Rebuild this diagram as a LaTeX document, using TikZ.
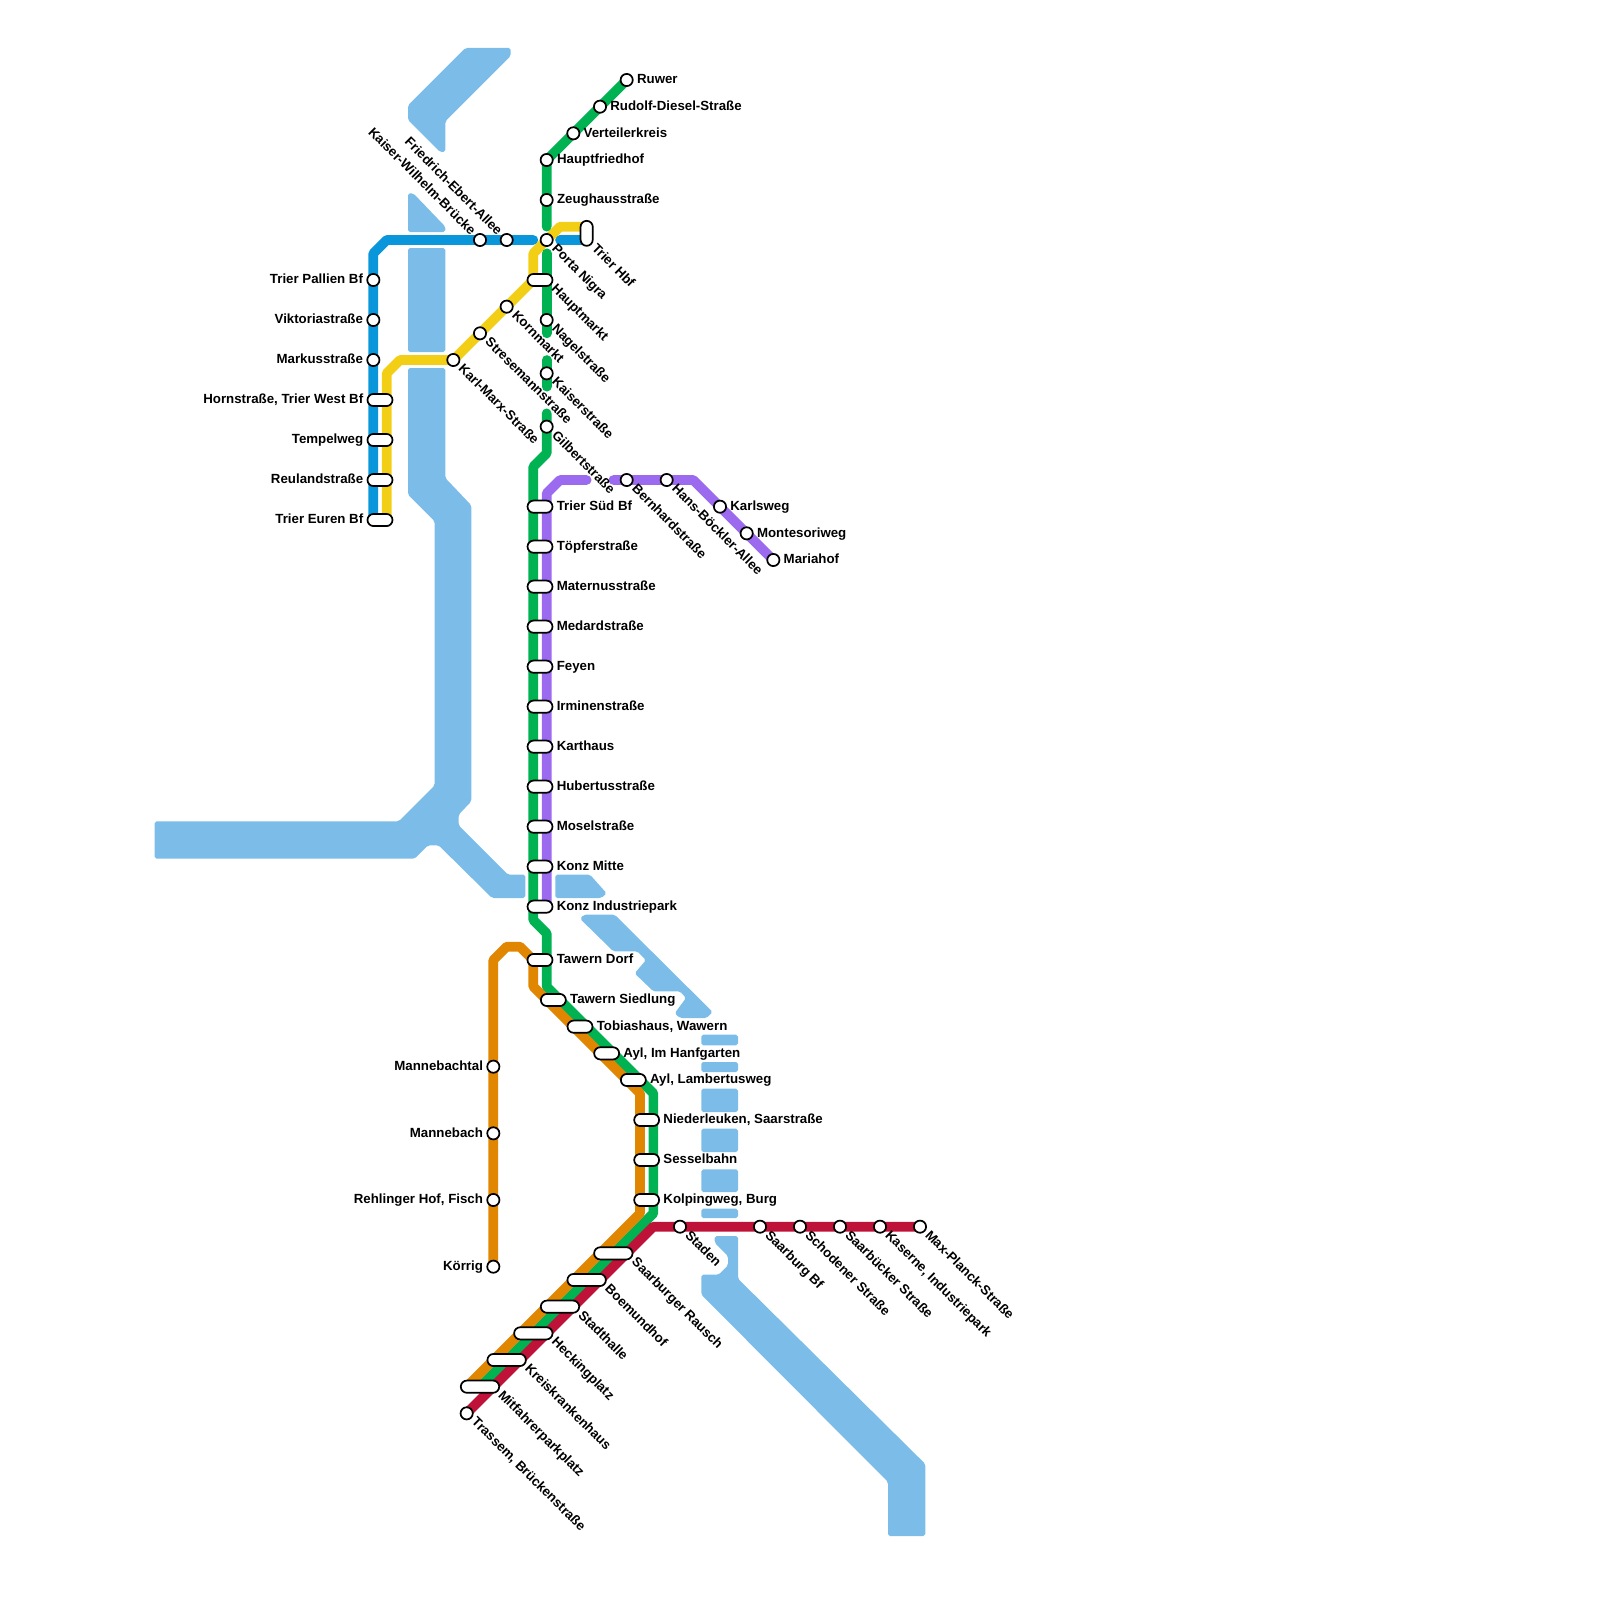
\documentclass[tikz,border=0pt]{standalone}
\usepackage{fontspec}
\setmainfont{Liberation Sans}
\usetikzlibrary{positioning}

\definecolor{waterblue}{HTML}{7BBDE8}
\definecolor{lineblue}{HTML}{0A96DA}
\definecolor{lineyellow}{HTML}{F2CF15}
\definecolor{linegreen}{HTML}{00B251}
\definecolor{linepurple}{HTML}{9B6AEE}
\definecolor{lineorange}{HTML}{E08600}
\definecolor{linered}{HTML}{BE1238}

\pgfdeclarelayer{lines}
\pgfsetlayers{lines,main}

\tikzset{
  water/.style={fill=waterblue, rounded corners=1.2pt},
  metro/.style={line width=6.2pt, line cap=round, line join=round},
  stop/.style={draw, circle, fill=white, line width=1.1pt, minimum size=7.8pt, inner sep=0pt},
  pill/.style={draw, fill=white, line width=1.1pt, rounded corners=3.9pt, minimum width=16pt, minimum height=7.8pt, inner sep=0pt},
  longpill/.style={pill, minimum width=24.6pt},
  txt/.style={font=\bfseries\fontsize{8.5pt}{10pt}\selectfont, inner sep=0pt, text height=6.7pt, text depth=2pt},
  slantlabel/.style={txt, yshift=-4.27pt, rotate=-45, anchor=west},
  backlabel/.style={txt, yshift=4.27pt, rotate=-45, anchor=east}
}

\begin{document}
\begin{tikzpicture}[x=0.3cm, y=-0.3cm]
\useasboundingbox (0,0) rectangle (120,120);

% Bends and free ends of the lines
\coordinate (bluebendA) at (28,19);
\coordinate (bluebendB) at (29,18);
\coordinate (blueend) at (28,39);
\coordinate (bluestub) at (40,18);
\coordinate (bluestart) at (42,18);
\coordinate (blueterm) at (44,18);
\coordinate (yellowterm) at (44,17);
\coordinate (yellowbendA) at (42,17);
\coordinate (yellowbendB) at (40,19);
\coordinate (yellowdiag) at (40,21);
\coordinate (yellowbendC) at (30,27);
\coordinate (yellowbendD) at (29,28);
\coordinate (yellowend) at (29,39);
\coordinate (greenstubA) at (41,17);
\coordinate (greenstubB) at (41,19);
\coordinate (greenstubC) at (41,25);
\coordinate (greenstubD) at (41,27);
\coordinate (greenstubE) at (41,29);
\coordinate (greenstubF) at (41,31);
\coordinate (greenbendA) at (41,34);
\coordinate (greenbendB) at (40,35);
\coordinate (greenbendC) at (40,69);
\coordinate (greenbendD) at (41,70);
\coordinate (greenbendE) at (41,74);
\coordinate (greenbendF) at (49,82);
\coordinate (greenbendG) at (49,91);
\coordinate (greenend) at (36,104);
\coordinate (purplestubA) at (46,36);
\coordinate (purplebendA) at (52,36);
\coordinate (purplestubB) at (44,36);
\coordinate (purplebendB) at (42,36);
\coordinate (purplebendC) at (41,37);
\coordinate (purpleend) at (41,68);
\coordinate (orangebendA) at (37,72);
\coordinate (orangebendB) at (38,71);
\coordinate (orangebendC) at (39,71);
\coordinate (orangebendD) at (40,72);
\coordinate (orangebendE) at (40,74);
\coordinate (orangebendF) at (48,82);
\coordinate (orangebendG) at (48,91);
\coordinate (orangeend) at (35,104);
\coordinate (redbend) at (49,92);

% Blue line
\node[stop] (pallien) at (28,21) {};
\node[txt, left=2pt of pallien] (pallienlabel) {Trier Pallien Bf};
\node[stop] (viktoria) at (28,24) {};
\node[txt, left=2pt of viktoria] (viktorialabel) {Viktoriastraße};
\node[stop] (markus) at (28,27) {};
\node[txt, left=2pt of markus] (markuslabel) {Markusstraße};
\node[pill] (horn) at (28.5,30) {};
\node[txt, left=2pt of horn] (hornlabel) {Hornstraße, Trier West Bf};
\node[pill] (tempel) at (28.5,33) {};
\node[txt, left=2pt of tempel] (tempellabel) {Tempelweg};
\node[pill] (reuland) at (28.5,36) {};
\node[txt, left=2pt of reuland] (reulandlabel) {Reulandstraße};
\node[pill] (euren) at (28.5,39) {};
\node[txt, left=2pt of euren] (eurenlabel) {Trier Euren Bf};
\node[stop] (kaiserw) at (36,18) {};
\node[backlabel] (kaiserwlabel) at (kaiserw.west) {Kaiser-Wilhelm-Brücke};
\node[stop] (ebert) at (38,18) {};
\node[backlabel] (ebertlabel) at (ebert.west) {Friedrich-Ebert-Allee};
\node[stop] (nigra) at (41,18) {};
\node[slantlabel] (nigralabel) at (nigra.east) {Porta Nigra};
\node[pill, minimum width=7.8pt, minimum height=16pt] (hbf) at (44,17.5) {};
\node[txt, rotate=-45, anchor=west] (hbflabel) at (hbf.south east) {Trier Hbf};

% Yellow line
\node[pill] (hauptmarkt) at (40.5,21) {};
\node[slantlabel] (hauptmarktlabel) at (hauptmarkt.east) {Hauptmarkt};
\node[stop] (korn) at (38,23) {};
\node[slantlabel] (kornlabel) at (korn.east) {Kornmarkt};
\node[stop] (strese) at (36,25) {};
\node[slantlabel] (streselabel) at (strese.east) {Stresemannstraße};
\node[stop] (marx) at (34,27) {};
\node[slantlabel] (marxlabel) at (marx.east) {Karl-Marx-Straße};

% Green line
\node[stop] (ruwer) at (47,6) {};
\node[txt, right=2pt of ruwer] (ruwerlabel) {Ruwer};
\node[stop] (diesel) at (45,8) {};
\node[txt, right=2pt of diesel] (diesellabel) {Rudolf-Diesel-Straße};
\node[stop] (verteiler) at (43,10) {};
\node[txt, right=2pt of verteiler] (verteilerlabel) {Verteilerkreis};
\node[stop] (friedhof) at (41,12) {};
\node[txt, right=2pt of friedhof] (friedhoflabel) {Hauptfriedhof};
\node[stop] (zeughaus) at (41,15) {};
\node[txt, right=2pt of zeughaus] (zeughauslabel) {Zeughausstraße};
\node[stop] (nagel) at (41,24) {};
\node[slantlabel] (nagellabel) at (nagel.east) {Nagelstraße};
\node[stop] (kaiser) at (41,28) {};
\node[slantlabel] (kaiserlabel) at (kaiser.east) {Kaiserstraße};
\node[stop] (gilbert) at (41,32) {};
\node[slantlabel] (gilbertlabel) at (gilbert.east) {Gilbertstraße};
\node[pill] (sued) at (40.5,38) {};
\node[txt, right=2pt of sued] (suedlabel) {Trier Süd Bf};
\node[pill] (toepfer) at (40.5,41) {};
\node[txt, right=2pt of toepfer] (toepferlabel) {Töpferstraße};
\node[pill] (matern) at (40.5,44) {};
\node[txt, right=2pt of matern] (maternlabel) {Maternusstraße};
\node[pill] (medard) at (40.5,47) {};
\node[txt, right=2pt of medard] (medardlabel) {Medardstraße};
\node[pill] (feyen) at (40.5,50) {};
\node[txt, right=2pt of feyen] (feyenlabel) {Feyen};
\node[pill] (irminen) at (40.5,53) {};
\node[txt, right=2pt of irminen] (irminenlabel) {Irminenstraße};
\node[pill] (karthaus) at (40.5,56) {};
\node[txt, right=2pt of karthaus] (karthauslabel) {Karthaus};
\node[pill] (hubertus) at (40.5,59) {};
\node[txt, right=2pt of hubertus] (hubertuslabel) {Hubertusstraße};
\node[pill] (mosel) at (40.5,62) {};
\node[txt, right=2pt of mosel] (mosellabel) {Moselstraße};
\node[pill] (konzm) at (40.5,65) {};
\node[txt, right=2pt of konzm] (konzmlabel) {Konz Mitte};
\node[pill] (konzi) at (40.5,68) {};
\node[txt, right=2pt of konzi] (konzilabel) {Konz Industriepark};
\node[pill] (tawernd) at (40.5,72) {};
\node[txt, right=2pt of tawernd] (tawerndlabel) {Tawern Dorf};
\node[pill] (tawerns) at (41.5,75) {};
\node[txt, right=2pt of tawerns] (tawernslabel) {Tawern Siedlung};
\node[pill] (tobias) at (43.5,77) {};
\node[txt, right=2pt of tobias] (tobiaslabel) {Tobiashaus, Wawern};
\node[pill] (hanf) at (45.5,79) {};
\node[txt, right=2pt of hanf] (hanflabel) {Ayl, Im Hanfgarten};
\node[pill] (lambert) at (47.5,81) {};
\node[txt, right=2pt of lambert] (lambertlabel) {Ayl, Lambertusweg};
\node[pill] (nieder) at (48.5,84) {};
\node[txt, right=2pt of nieder] (niederlabel) {Niederleuken, Saarstraße};
\node[pill] (sessel) at (48.5,87) {};
\node[txt, right=2pt of sessel] (sessellabel) {Sesselbahn};
\node[pill] (kolping) at (48.5,90) {};
\node[txt, right=2pt of kolping] (kolpinglabel) {Kolpingweg, Burg};

% Purple line
\node[stop] (bernhard) at (47,36) {};
\node[slantlabel] (bernhardlabel) at (bernhard.east) {Bernhardstraße};
\node[stop] (boeckler) at (50,36) {};
\node[slantlabel] (boecklerlabel) at (boeckler.east) {Hans-Böckler-Allee};
\node[stop] (karls) at (54,38) {};
\node[txt, right=2pt of karls] (karlslabel) {Karlsweg};
\node[stop] (montesori) at (56,40) {};
\node[txt, right=2pt of montesori] (montesorilabel) {Montesoriweg};
\node[stop] (maria) at (58,42) {};
\node[txt, right=2pt of maria] (marialabel) {Mariahof};

% Orange line
\node[stop] (mannetal) at (37,80) {};
\node[txt, left=2pt of mannetal] (mannetallabel) {Mannebachtal};
\node[stop] (mannebach) at (37,85) {};
\node[txt, left=2pt of mannebach] (mannebachlabel) {Mannebach};
\node[stop] (rehlingen) at (37,90) {};
\node[txt, left=2pt of rehlingen] (rehlingenlabel) {Rehlinger Hof, Fisch};
\node[stop] (koerrig) at (37,95) {};
\node[txt, left=2pt of koerrig] (koerriglabel) {Körrig};

% Red line
\node[stop] (staden) at (51,92) {};
\node[slantlabel] (stadenlabel) at (staden.east) {Staden};
\node[stop] (saarburg) at (57,92) {};
\node[slantlabel] (saarburglabel) at (saarburg.east) {Saarburg Bf};
\node[stop] (schoden) at (60,92) {};
\node[slantlabel] (schodenlabel) at (schoden.east) {Schodener Straße};
\node[stop] (saarbuecker) at (63,92) {};
\node[slantlabel] (saarbueckerlabel) at (saarbuecker.east) {Saarbücker Straße};
\node[stop] (kaserne) at (66,92) {};
\node[slantlabel] (kasernelabel) at (kaserne.east) {Kaserne, Industriepark};
\node[stop] (planck) at (69,92) {};
\node[slantlabel] (plancklabel) at (planck.east) {Max-Planck-Straße};
\node[longpill] (rausch) at (46,94) {};
\node[slantlabel] (rauschlabel) at (rausch.east) {Saarburger Rausch};
\node[longpill] (boemund) at (44,96) {};
\node[slantlabel] (boemundlabel) at (boemund.east) {Boemundhof};
\node[longpill] (stadthalle) at (42,98) {};
\node[slantlabel] (stadthallelabel) at (stadthalle.east) {Stadthalle};
\node[longpill] (hecking) at (40,100) {};
\node[slantlabel] (heckinglabel) at (hecking.east) {Heckingplatz};
\node[longpill] (kreis) at (38,102) {};
\node[slantlabel] (kreislabel) at (kreis.east) {Kreiskrankenhaus};
\node[longpill] (mitfahrer) at (36,104) {};
\node[slantlabel] (mitfahrerlabel) at (mitfahrer.east) {Mitfahrerparkplatz};
\node[stop] (trassem) at (35,106) {};
\node[slantlabel] (trassemlabel) at (trassem.east) {Trassem, Brückenstraße};

\begin{pgfonlayer}{lines}
% River
\fill[water] (34.9,3.6) -- (38.3,3.6) -- (38.3,4.2) -- (33.4,9.1) -- (33.4,11.4) -- (33,11.4) -- (30.6,9) -- (30.6,7.9) -- cycle;
\fill[water] (30.6,14.5) -- (31,14.5) -- (33.4,17) -- (33.4,17.4) -- (30.6,17.4) -- cycle;
\fill[water] (30.6,18.6) rectangle (33.4,26.4);
\fill[water] (30.6,27.6) -- (33.4,27.6) -- (33.4,35.85) -- (35.35,37.9) -- (35.35,60.1) -- (34.4,61.1) -- (34.4,61.9) -- (38.1,65.6) -- (39.4,65.6) -- (39.4,67.35) -- (36.9,67.35) -- (32.9,63.4) -- (32.1,63.4) -- (31.1,64.4) -- (11.6,64.4) -- (11.6,61.6) -- (29.9,61.6) -- (32.6,58.9) -- (32.6,39.1) -- (30.6,37.1) -- cycle;
\fill[water] (41.65,65.6) -- (44.25,65.6) -- (45.5,67) -- (45.1,67.35) -- (41.65,67.35) -- cycle;
\fill[water] (43.5,68.9) -- (43.8,68.6) -- (46.1,68.6) -- (53.45,75.9) -- (53,76.35) -- (51,76.35) -- (50.6,76) -- (51.45,74.85) -- (51,74.35) -- (49,74.35) -- (47.6,73) -- (48.45,72) -- (47.8,71.35) -- (46,71.35) -- cycle;
\fill[water] (52.6,77.6) rectangle (55.35,78.4);
\fill[water] (52.6,79.65) rectangle (55.35,80.4);
\fill[water] (52.6,81.65) rectangle (55.35,83.4);
\fill[water] (52.6,84.65) rectangle (55.35,86.4);
\fill[water] (52.6,87.7) rectangle (55.35,89.4);
\fill[water] (52.6,90.65) rectangle (55.35,91.35);
\fill[water] (53.6,92.7) -- (55.35,92.7) -- (55.35,95.9) -- (69.4,109.8) -- (69.4,115.2) -- (66.6,115.2) -- (66.6,111.15) -- (52.6,97.1) -- (52.6,95.6) -- (53.9,95.6) -- (54.6,94.9) -- (54.6,94.2) -- (53.6,93.2) -- cycle;

% Lines
\draw[metro, lineblue] (blueend) -- (bluebendA) -- (bluebendB) -- (bluestub);
\draw[metro, lineblue] (bluestart) -- (blueterm);
\draw[metro, lineyellow] (yellowend) -- (yellowbendD) -- (yellowbendC) -- (marx.center) -- (yellowdiag) -- (yellowbendB) -- (yellowbendA) -- (yellowterm);
\draw[metro, linegreen] (ruwer.center) -- (friedhof.center) -- (greenstubA);
\draw[metro, linegreen] (greenstubB) -- (greenstubC);
\draw[metro, linegreen] (greenstubD) -- (greenstubE);
\draw[metro, linegreen] (greenstubF) -- (greenbendA) -- (greenbendB) -- (greenbendC) -- (greenbendD) -- (greenbendE) -- (greenbendF) -- (greenbendG) -- (greenend);
\draw[metro, linepurple] (maria.center) -- (purplebendA) -- (purplestubA);
\draw[metro, linepurple] (purplestubB) -- (purplebendB) -- (purplebendC) -- (purpleend);
\draw[metro, lineorange] (koerrig.center) -- (orangebendA) -- (orangebendB) -- (orangebendC) -- (orangebendD) -- (orangebendE) -- (orangebendF) -- (orangebendG) -- (orangeend);
\draw[metro, linered] (trassem.center) -- (redbend) -- (planck.center);
\end{pgfonlayer}
\end{tikzpicture}
\end{document}
